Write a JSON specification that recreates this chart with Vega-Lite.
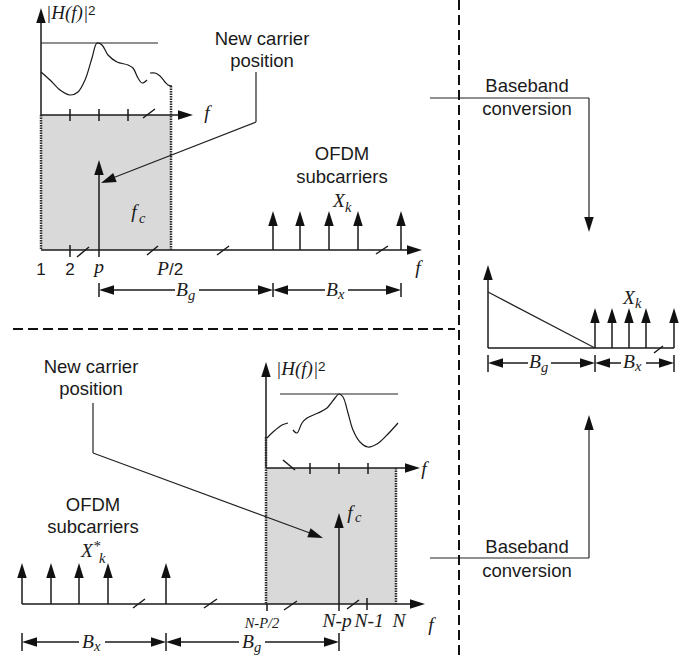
{
  "$schema": "https://vega.github.io/schema/vega-lite/v6.json",
  "width": 699,
  "height": 660,
  "padding": 0,
  "autosize": {"type": "none"},
  "background": "white",
  "config": {"view": {"stroke": null}},
  "datasets": {
    "boxes": [
      {"x": 41, "y": 115, "x2": 171, "y2": 250},
      {"x": 266, "y": 468, "x2": 396, "y2": 604}
    ],
    "segs": [
      {"s": "s", "x": 41, "y": 115, "x2": 41, "y2": 16},
      {"s": "s", "x": 41, "y": 115, "x2": 185, "y2": 115},
      {"s": "s", "x": 70, "y": 109, "x2": 70, "y2": 121},
      {"s": "s", "x": 99, "y": 109, "x2": 99, "y2": 121},
      {"s": "s", "x": 128, "y": 109, "x2": 128, "y2": 121},
      {"s": "s", "x": 143, "y": 118, "x2": 155, "y2": 109},
      {"s": "s", "x": 41, "y": 250, "x2": 410, "y2": 250},
      {"s": "s", "x": 70, "y": 245, "x2": 70, "y2": 257},
      {"s": "s", "x": 99, "y": 257, "x2": 99, "y2": 170},
      {"s": "s", "x": 77, "y": 257, "x2": 89, "y2": 247},
      {"s": "s", "x": 147, "y": 255, "x2": 158, "y2": 246},
      {"s": "s", "x": 217, "y": 255, "x2": 229, "y2": 246},
      {"s": "s", "x": 376, "y": 254, "x2": 388, "y2": 246},
      {"s": "s", "x": 273, "y": 250, "x2": 273, "y2": 222},
      {"s": "s", "x": 300, "y": 250, "x2": 300, "y2": 222},
      {"s": "s", "x": 329, "y": 250, "x2": 329, "y2": 222},
      {"s": "s", "x": 358, "y": 250, "x2": 358, "y2": 222},
      {"s": "s", "x": 401, "y": 250, "x2": 401, "y2": 222},
      {"s": "s", "x": 99, "y": 283, "x2": 99, "y2": 297},
      {"s": "s", "x": 273, "y": 283, "x2": 273, "y2": 297},
      {"s": "s", "x": 401, "y": 283, "x2": 401, "y2": 297},
      {"s": "s", "x": 104, "y": 290, "x2": 175, "y2": 290},
      {"s": "s", "x": 199, "y": 290, "x2": 268, "y2": 290},
      {"s": "s", "x": 278, "y": 290, "x2": 325, "y2": 290},
      {"s": "s", "x": 348, "y": 290, "x2": 396, "y2": 290},
      {"s": "t", "x": 41, "y": 43, "x2": 158, "y2": 43},
      {"s": "t", "x": 256, "y": 72, "x2": 256, "y2": 122},
      {"s": "t", "x": 256, "y": 122, "x2": 105, "y2": 181},
      {"s": "o", "x": 41, "y": 115, "x2": 41, "y2": 250},
      {"s": "o", "x": 171, "y": 86, "x2": 171, "y2": 250},
      {"s": "d", "x": 459, "y": 0, "x2": 459, "y2": 660},
      {"s": "d", "x": 13, "y": 329, "x2": 455, "y2": 329},
      {"s": "t", "x": 430, "y": 98, "x2": 589, "y2": 98},
      {"s": "t", "x": 589, "y": 98, "x2": 589, "y2": 222},
      {"s": "t", "x": 430, "y": 558, "x2": 589, "y2": 558},
      {"s": "t", "x": 589, "y": 558, "x2": 589, "y2": 425},
      {"s": "s", "x": 488, "y": 348, "x2": 674, "y2": 348},
      {"s": "s", "x": 488, "y": 348, "x2": 488, "y2": 275},
      {"s": "t", "x": 488, "y": 292, "x2": 595, "y2": 348},
      {"s": "s", "x": 595, "y": 348, "x2": 595, "y2": 318},
      {"s": "s", "x": 612, "y": 348, "x2": 612, "y2": 318},
      {"s": "s", "x": 629, "y": 348, "x2": 629, "y2": 318},
      {"s": "s", "x": 646, "y": 348, "x2": 646, "y2": 318},
      {"s": "s", "x": 674, "y": 348, "x2": 674, "y2": 318},
      {"s": "s", "x": 654, "y": 353, "x2": 663, "y2": 346},
      {"s": "s", "x": 488, "y": 355, "x2": 488, "y2": 372},
      {"s": "s", "x": 595, "y": 355, "x2": 595, "y2": 372},
      {"s": "s", "x": 674, "y": 355, "x2": 674, "y2": 372},
      {"s": "s", "x": 493, "y": 363, "x2": 528, "y2": 363},
      {"s": "s", "x": 551, "y": 363, "x2": 590, "y2": 363},
      {"s": "s", "x": 600, "y": 363, "x2": 621, "y2": 363},
      {"s": "s", "x": 646, "y": 363, "x2": 669, "y2": 363},
      {"s": "s", "x": 266, "y": 468, "x2": 266, "y2": 372},
      {"s": "t", "x": 280, "y": 394, "x2": 398, "y2": 394},
      {"s": "s", "x": 266, "y": 468, "x2": 408, "y2": 468},
      {"s": "s", "x": 310, "y": 463, "x2": 310, "y2": 474},
      {"s": "s", "x": 339, "y": 463, "x2": 339, "y2": 474},
      {"s": "s", "x": 368, "y": 463, "x2": 368, "y2": 474},
      {"s": "s", "x": 283, "y": 460, "x2": 295, "y2": 470},
      {"s": "o", "x": 266, "y": 437, "x2": 266, "y2": 604},
      {"s": "o", "x": 396, "y": 468, "x2": 396, "y2": 604},
      {"s": "s", "x": 22, "y": 604, "x2": 413, "y2": 604},
      {"s": "s", "x": 22, "y": 604, "x2": 22, "y2": 575},
      {"s": "s", "x": 51, "y": 604, "x2": 51, "y2": 575},
      {"s": "s", "x": 79, "y": 604, "x2": 79, "y2": 575},
      {"s": "s", "x": 108, "y": 604, "x2": 108, "y2": 575},
      {"s": "s", "x": 166, "y": 604, "x2": 166, "y2": 575},
      {"s": "s", "x": 133, "y": 608, "x2": 145, "y2": 599},
      {"s": "s", "x": 204, "y": 608, "x2": 217, "y2": 599},
      {"s": "s", "x": 284, "y": 610, "x2": 297, "y2": 601},
      {"s": "s", "x": 347, "y": 609, "x2": 359, "y2": 600},
      {"s": "s", "x": 267, "y": 604, "x2": 267, "y2": 611},
      {"s": "s", "x": 339, "y": 611, "x2": 339, "y2": 525},
      {"s": "s", "x": 367, "y": 598, "x2": 367, "y2": 610},
      {"s": "s", "x": 22, "y": 633, "x2": 22, "y2": 651},
      {"s": "s", "x": 166, "y": 633, "x2": 166, "y2": 651},
      {"s": "s", "x": 339, "y": 633, "x2": 339, "y2": 651},
      {"s": "s", "x": 27, "y": 642, "x2": 79, "y2": 642},
      {"s": "s", "x": 105, "y": 642, "x2": 161, "y2": 642},
      {"s": "s", "x": 171, "y": 642, "x2": 239, "y2": 642},
      {"s": "s", "x": 265, "y": 642, "x2": 334, "y2": 642},
      {"s": "t", "x": 93, "y": 403, "x2": 93, "y2": 453},
      {"s": "t", "x": 93, "y": 453, "x2": 318, "y2": 536}
    ],
    "heads": [
      {"x": 41, "y": 8, "a": 0},
      {"x": 193, "y": 115, "a": 90},
      {"x": 422, "y": 250, "a": 90},
      {"x": 99, "y": 160, "a": 0},
      {"x": 273, "y": 211, "a": 0},
      {"x": 300, "y": 211, "a": 0},
      {"x": 329, "y": 211, "a": 0},
      {"x": 358, "y": 211, "a": 0},
      {"x": 401, "y": 211, "a": 0},
      {"x": 99, "y": 290, "a": 270},
      {"x": 273, "y": 290, "a": 90},
      {"x": 273, "y": 290, "a": 270},
      {"x": 401, "y": 290, "a": 90},
      {"x": 101, "y": 183, "a": 248.5},
      {"x": 589, "y": 232, "a": 180},
      {"x": 589, "y": 415, "a": 0},
      {"x": 488, "y": 265, "a": 0},
      {"x": 595, "y": 308, "a": 0},
      {"x": 612, "y": 308, "a": 0},
      {"x": 629, "y": 308, "a": 0},
      {"x": 646, "y": 308, "a": 0},
      {"x": 674, "y": 308, "a": 0},
      {"x": 488, "y": 363, "a": 270},
      {"x": 595, "y": 363, "a": 90},
      {"x": 595, "y": 363, "a": 270},
      {"x": 674, "y": 363, "a": 90},
      {"x": 266, "y": 362, "a": 0},
      {"x": 420, "y": 468, "a": 90},
      {"x": 425, "y": 604, "a": 90},
      {"x": 22, "y": 563, "a": 0},
      {"x": 51, "y": 563, "a": 0},
      {"x": 79, "y": 563, "a": 0},
      {"x": 108, "y": 563, "a": 0},
      {"x": 166, "y": 563, "a": 0},
      {"x": 339, "y": 513, "a": 0},
      {"x": 22, "y": 642, "a": 270},
      {"x": 166, "y": 642, "a": 90},
      {"x": 166, "y": 642, "a": 270},
      {"x": 339, "y": 642, "a": 90},
      {"x": 323, "y": 538, "a": 110.3}
    ],
    "curves": [
      {"c": "1a", "x": 41, "y": 72}, {"c": "1a", "x": 50, "y": 80}, {"c": "1a", "x": 60, "y": 90},
      {"c": "1a", "x": 70, "y": 95}, {"c": "1a", "x": 78, "y": 92}, {"c": "1a", "x": 85, "y": 80},
      {"c": "1a", "x": 92, "y": 58}, {"c": "1a", "x": 97, "y": 43}, {"c": "1a", "x": 102, "y": 45},
      {"c": "1a", "x": 108, "y": 55}, {"c": "1a", "x": 117, "y": 62}, {"c": "1a", "x": 128, "y": 65},
      {"c": "1a", "x": 133, "y": 68}, {"c": "1a", "x": 138, "y": 78}, {"c": "1a", "x": 142, "y": 83},
      {"c": "1a", "x": 147, "y": 80},
      {"c": "1b", "x": 150, "y": 73}, {"c": "1b", "x": 155, "y": 73}, {"c": "1b", "x": 160, "y": 76},
      {"c": "1b", "x": 165, "y": 82}, {"c": "1b", "x": 168, "y": 85}, {"c": "1b", "x": 172, "y": 86},
      {"c": "2a", "x": 267, "y": 438}, {"c": "2a", "x": 273, "y": 432}, {"c": "2a", "x": 282, "y": 425},
      {"c": "2a", "x": 288, "y": 423},
      {"c": "2b", "x": 293, "y": 430}, {"c": "2b", "x": 297, "y": 433}, {"c": "2b", "x": 302, "y": 423},
      {"c": "2b", "x": 307, "y": 418}, {"c": "2b", "x": 318, "y": 413}, {"c": "2b", "x": 327, "y": 408},
      {"c": "2b", "x": 335, "y": 398}, {"c": "2b", "x": 339, "y": 394}, {"c": "2b", "x": 343, "y": 397},
      {"c": "2b", "x": 348, "y": 413}, {"c": "2b", "x": 353, "y": 430}, {"c": "2b", "x": 360, "y": 442},
      {"c": "2b", "x": 368, "y": 447}, {"c": "2b", "x": 377, "y": 444}, {"c": "2b", "x": 387, "y": 435},
      {"c": "2b", "x": 398, "y": 423}
    ],
    "texts": [
      {"s": "sans", "t": "New carrier", "x": 262, "y": 45},
      {"s": "sans", "t": "position", "x": 262, "y": 67},
      {"s": "sans", "t": "OFDM", "x": 342, "y": 160},
      {"s": "sans", "t": "subcarriers", "x": 342, "y": 183},
      {"s": "sans", "t": "Baseband", "x": 527, "y": 92},
      {"s": "sans", "t": "conversion", "x": 527, "y": 115},
      {"s": "sans", "t": "Baseband", "x": 527, "y": 553},
      {"s": "sans", "t": "conversion", "x": 527, "y": 577},
      {"s": "sans", "t": "New carrier", "x": 91, "y": 373},
      {"s": "sans", "t": "position", "x": 91, "y": 395},
      {"s": "sans", "t": "OFDM", "x": 93, "y": 511},
      {"s": "sans", "t": "subcarriers", "x": 93, "y": 533},
      {"s": "num", "t": "1", "x": 41, "y": 275},
      {"s": "num", "t": "2", "x": 70, "y": 275},
      {"s": "numl", "t": "/2", "x": 169, "y": 275},
      {"s": "it", "t": "P", "x": 163, "y": 275},
      {"s": "it", "t": "p", "x": 99, "y": 273},
      {"s": "it", "t": "f", "x": 418, "y": 274},
      {"s": "it", "t": "f", "x": 207, "y": 119},
      {"s": "it", "t": "f", "x": 134, "y": 218},
      {"s": "it", "t": "X", "x": 339, "y": 207},
      {"s": "it", "t": "B", "x": 182, "y": 296},
      {"s": "it", "t": "B", "x": 332, "y": 296},
      {"s": "it", "t": "X", "x": 629, "y": 304},
      {"s": "it", "t": "B", "x": 535, "y": 368},
      {"s": "it", "t": "B", "x": 629, "y": 368},
      {"s": "it", "t": "f", "x": 424, "y": 475},
      {"s": "it", "t": "f", "x": 350, "y": 519},
      {"s": "it", "t": "X", "x": 87, "y": 557},
      {"s": "it", "t": "N-p", "x": 337, "y": 627},
      {"s": "it", "t": "N-1", "x": 369, "y": 627},
      {"s": "it", "t": "N", "x": 399, "y": 627},
      {"s": "it", "t": "f", "x": 431, "y": 631},
      {"s": "it", "t": "B", "x": 88, "y": 648},
      {"s": "it", "t": "B", "x": 248, "y": 648},
      {"s": "itl", "t": "|H(f)|", "x": 46, "y": 19},
      {"s": "itl", "t": "|H(f)|", "x": 276, "y": 375},
      {"s": "sup", "t": "2", "x": 88, "y": 15},
      {"s": "sup", "t": "2", "x": 318, "y": 371},
      {"s": "sub", "t": "c", "x": 139, "y": 223},
      {"s": "sub", "t": "k", "x": 345, "y": 212},
      {"s": "sub", "t": "g", "x": 188, "y": 300},
      {"s": "sub", "t": "x", "x": 338, "y": 299},
      {"s": "sub", "t": "k", "x": 635, "y": 308},
      {"s": "sub", "t": "g", "x": 541, "y": 372},
      {"s": "sub", "t": "x", "x": 635, "y": 371},
      {"s": "sub", "t": "c", "x": 355, "y": 522},
      {"s": "sub", "t": "k", "x": 99, "y": 563},
      {"s": "sub", "t": "*", "x": 93, "y": 551},
      {"s": "sub", "t": "x", "x": 94, "y": 651},
      {"s": "sub", "t": "g", "x": 254, "y": 652},
      {"s": "sml", "t": "N-P/2", "x": 262, "y": 628}
    ]
  },
  "encoding": {
    "x": {"field": "x", "type": "quantitative", "scale": {"domain": [0, 699], "nice": false, "zero": false}, "axis": null},
    "y": {"field": "y", "type": "quantitative", "scale": {"domain": [0, 660], "nice": false, "zero": false, "reverse": true}, "axis": null}
  },
  "layer": [
    {
      "data": {"name": "boxes"},
      "mark": {"type": "rect", "fill": "#d9d9d9"},
      "encoding": {"x2": {"field": "x2"}, "y2": {"field": "y2"}}
    },
    {
      "data": {"name": "segs"},
      "transform": [{"filter": "datum.s === 's'"}],
      "mark": {"type": "rule", "stroke": "#1a1a1a", "strokeWidth": 1.5},
      "encoding": {"x2": {"field": "x2"}, "y2": {"field": "y2"}}
    },
    {
      "data": {"name": "segs"},
      "transform": [{"filter": "datum.s === 't'"}],
      "mark": {"type": "rule", "stroke": "#222222", "strokeWidth": 1.2},
      "encoding": {"x2": {"field": "x2"}, "y2": {"field": "y2"}}
    },
    {
      "data": {"name": "segs"},
      "transform": [{"filter": "datum.s === 'o'"}],
      "mark": {"type": "rule", "stroke": "#2a2a2a", "strokeWidth": 2.5, "strokeDash": [1.5, 1]},
      "encoding": {"x2": {"field": "x2"}, "y2": {"field": "y2"}}
    },
    {
      "data": {"name": "segs"},
      "transform": [{"filter": "datum.s === 'd'"}],
      "mark": {"type": "rule", "stroke": "#111111", "strokeWidth": 2, "strokeDash": [10, 5]},
      "encoding": {"x2": {"field": "x2"}, "y2": {"field": "y2"}}
    },
    {
      "data": {"name": "curves"},
      "mark": {"type": "line", "stroke": "#1a1a1a", "strokeWidth": 1.2, "interpolate": "catmull-rom"},
      "encoding": {"detail": {"field": "c", "type": "nominal"}}
    },
    {
      "data": {"name": "heads"},
      "mark": {"type": "point", "shape": "M0,0L0.63,2L-0.63,2Z", "filled": true, "fill": "#111111", "size": 225, "opacity": 1, "strokeWidth": 0},
      "encoding": {"angle": {"field": "a", "type": "quantitative", "scale": {"domain": [0, 360], "range": [0, 360]}}}
    },
    {
      "data": {"name": "texts"},
      "transform": [{"filter": "datum.s === 'sans'"}],
      "mark": {"type": "text", "font": "Liberation Sans", "fontSize": 18.5, "align": "center", "baseline": "alphabetic", "fill": "#1a1a1a"},
      "encoding": {"text": {"field": "t"}}
    },
    {
      "data": {"name": "texts"},
      "transform": [{"filter": "datum.s === 'num'"}],
      "mark": {"type": "text", "font": "Liberation Sans", "fontSize": 17, "align": "center", "baseline": "alphabetic", "fill": "#1a1a1a"},
      "encoding": {"text": {"field": "t"}}
    },
    {
      "data": {"name": "texts"},
      "transform": [{"filter": "datum.s === 'numl'"}],
      "mark": {"type": "text", "font": "Liberation Sans", "fontSize": 17, "align": "left", "baseline": "alphabetic", "fill": "#1a1a1a"},
      "encoding": {"text": {"field": "t"}}
    },
    {
      "data": {"name": "texts"},
      "transform": [{"filter": "datum.s === 'it'"}],
      "mark": {"type": "text", "font": "Liberation Serif", "fontStyle": "italic", "fontSize": 19.5, "align": "center", "baseline": "alphabetic", "fill": "#1a1a1a"},
      "encoding": {"text": {"field": "t"}}
    },
    {
      "data": {"name": "texts"},
      "transform": [{"filter": "datum.s === 'itl'"}],
      "mark": {"type": "text", "font": "Liberation Serif", "fontStyle": "italic", "fontSize": 19, "align": "left", "baseline": "alphabetic", "fill": "#1a1a1a"},
      "encoding": {"text": {"field": "t"}}
    },
    {
      "data": {"name": "texts"},
      "transform": [{"filter": "datum.s === 'sup'"}],
      "mark": {"type": "text", "font": "Liberation Sans", "fontSize": 13.5, "align": "left", "baseline": "alphabetic", "fill": "#1a1a1a"},
      "encoding": {"text": {"field": "t"}}
    },
    {
      "data": {"name": "texts"},
      "transform": [{"filter": "datum.s === 'sub'"}],
      "mark": {"type": "text", "font": "Liberation Serif", "fontStyle": "italic", "fontSize": 14.5, "align": "left", "baseline": "alphabetic", "fill": "#1a1a1a"},
      "encoding": {"text": {"field": "t"}}
    },
    {
      "data": {"name": "texts"},
      "transform": [{"filter": "datum.s === 'sml'"}],
      "mark": {"type": "text", "font": "Liberation Serif", "fontStyle": "italic", "fontSize": 14.5, "align": "center", "baseline": "alphabetic", "fill": "#1a1a1a"},
      "encoding": {"text": {"field": "t"}}
    }
  ]
}
